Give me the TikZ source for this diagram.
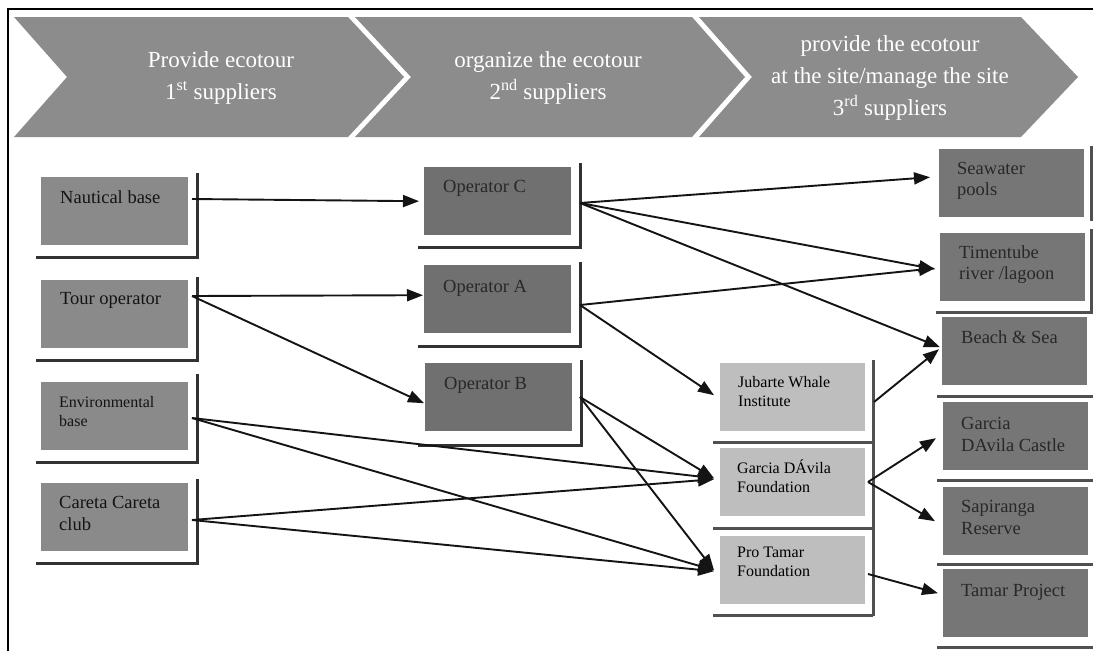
\documentclass[tikz,border=0pt]{standalone}
\usepackage{fontspec}
\setmainfont{Liberation Serif}
\usetikzlibrary{arrows.meta,calc}
\definecolor{chev}{RGB}{140,140,140}
\definecolor{boxA}{RGB}{138,138,138}
\definecolor{boxB}{RGB}{112,112,112}
\definecolor{boxC}{RGB}{190,190,190}
\definecolor{boxD}{RGB}{118,118,118}
\definecolor{shad}{RGB}{50,50,50}
\definecolor{sepc}{RGB}{80,80,80}
\definecolor{ink}{RGB}{20,20,20}
\definecolor{inkB}{RGB}{40,40,40}
\tikzset{
  chevshape/.style={fill=chev,draw=none},
  chevtxt/.style={align=center,text=white,inner sep=0pt,font=\fontsize{23}{32}\selectfont},
  box/.style={draw=none,minimum width=147pt,minimum height=68pt,inner sep=0pt,anchor=north west},
  boxone/.style={box,fill=boxA},
  boxtwo/.style={box,fill=boxB},
  boxthree/.style={box,fill=boxC,minimum width=145pt},
  boxfour/.style={box,fill=boxD,minimum width=145pt},
  lbl/.style={anchor=north west,inner sep=0pt,align=left,text=ink,font=\fontsize{18.5}{21}\selectfont},
  lblsmall/.style={lbl,font=\fontsize{16}{19}\selectfont},
  lbltwo/.style={lbl,text=inkB},
  shadowline/.style={line width=3pt,draw=shad},
  sepline/.style={line width=3pt,draw=sepc},
  arr/.style={-{Triangle[length=16pt,width=12pt]},line width=1.9pt,draw=ink},
}
\begin{document}
\begin{tikzpicture}[x=1pt,y=-1pt]
\useasboundingbox (0,0) rectangle (1093,651);
\fill[white] (0,0) rectangle (1093,651);
% frame
\draw[line width=2pt] (8,651) -- (8,9) -- (1093,9);
% chevrons
\fill[chevshape] (14,17) -- (348,17) -- (404,77) -- (348,137) -- (14,137) -- (67,77) -- cycle;
\fill[chevshape] (355,17) -- (692,17) -- (745,77) -- (692,137) -- (355,137) -- (411,77) -- cycle;
\fill[chevshape] (699,17) -- (1021,17) -- (1078,77) -- (1021,137) -- (699,137) -- (752,77) -- cycle;
\node[chevtxt] (ch1) at (221,78) {Provide ecotour\\1\textsuperscript{st} suppliers};
\node[chevtxt] (ch2) at (548,78) {organize the ecotour\\2\textsuperscript{nd} suppliers};
\node[chevtxt] (ch3) at (890,78) {provide the ecotour\\at the site/manage the site\\3\textsuperscript{rd} suppliers};

% column 1
\draw[shadowline] (36,257) -| (197,173);
\draw[shadowline] (36,360) -| (197,277);
\draw[shadowline] (36,462) -| (197,374);
\draw[shadowline] (36,563) -| (197,479);
\node[boxone] (nb) at (41,177) {};
\node[boxone] (to) at (41,280) {};
\node[boxone] (eb) at (41,382) {};
\node[boxone] (cc) at (41,483) {};
\node[lbl] (nbt) at (60,190.5) {Nautical base};
\node[lbl] (tot) at (60,292.5) {Tour operator};
\node[lblsmall] (ebt) at (59,396) {Environmental\\base};
\node[lbl,font=\fontsize{18.5}{22}\selectfont] (cct) at (59,496.5) {Careta Careta\\club};

% column 2
\draw[shadowline] (418,247) -| (580,163);
\draw[shadowline] (418,346) -| (580,262);
\draw[shadowline] (418,445) -| (581,360);
\node[boxtwo] (opC) at (424,167) {};
\node[boxtwo] (opA) at (424,265) {};
\node[boxtwo] (opB) at (425,363) {};
\node[lbltwo] (opCt) at (443,180.5) {Operator C};
\node[lbltwo] (opAt) at (443,280.5) {Operator A};
\node[lbltwo] (opBt) at (444,377.5) {Operator B};

% column 3
\draw[sepline] (873,360) -- (873,616);
\draw[sepline] (713,442) -- (873,442);
\draw[sepline] (713,528) -- (873,528);
\draw[sepline] (713,615) -- (873,615);
\node[boxthree] (jw) at (720,363) {};
\node[boxthree] (gf) at (720,448) {};
\node[boxthree] (pt) at (720,536) {};
\node[lblsmall,text=black] (jwt) at (738,376) {Jubarte Whale\\Institute};
\node[lblsmall,text=black] (gft) at (737,460) {Garcia DÁvila\\Foundation};
\node[lblsmall,text=black] (ptt) at (737,547) {Pro Tamar\\Foundation};

% column 4
\draw[sepline] (1091,146) -- (1091,221);
\draw[sepline] (1091,229) -- (1091,312);
\draw[sepline] (936,312) -- (1093,312);
\draw[sepline] (937,396) -- (1093,396);
\draw[sepline] (937,480) -- (1093,480);
\draw[sepline] (937,564) -- (1093,564);
\draw[sepline] (937,647) -- (1093,647);
\node[boxfour] (sw) at (939,149) {};
\node[boxfour] (tr) at (940,233) {};
\node[boxfour] (bs) at (942,317) {};
\node[boxfour] (gc) at (943,402) {};
\node[boxfour] (sr) at (943,487) {};
\node[boxfour] (tp) at (943,569) {};
\node[lbltwo] (swt) at (957,162.5) {Seawater\\pools};
\node[lbltwo] (trt) at (959,245.5) {Timentube\\river /lagoon};
\node[lbltwo] (bst) at (961,330.5) {Beach \& Sea};
\node[lbltwo,font=\fontsize{18.5}{22}\selectfont] (gct) at (961,417.5) {Garcia\\DAvila Castle};
\node[lbltwo,font=\fontsize{18.5}{22}\selectfont] (srt) at (961,500.5) {Sapiranga\\Reserve};
\node[lbltwo] (tpt) at (961,584.5) {Tamar Project};

% ports
\coordinate (nbo) at (192,199);
\coordinate (too) at (192,296);
\coordinate (ebo) at (192,418);
\coordinate (cco) at (192,520);
\coordinate (oCo) at (580,203);
\coordinate (oAo) at (580,305);
\coordinate (oBo) at (580,397);
\coordinate (jwo) at (874,402);
\coordinate (gfo) at (868,482);
\coordinate (pto) at (868,574);

% arrows
\draw[arr] (nbo) -- ($(opC.west)+(-5,0)$);
\draw[arr] (too) -- ($(opA.west)+(-1,-4)$);
\draw[arr] (too) -- ($(opB.west)+(-1,6)$);
\draw[arr] (oCo) -- ($(sw.west)+(-9,-6)$);
\draw[arr] (oCo) -- ($(tr.west)+(-5,2)$);
\draw[arr] (oCo) -- ($(bs.west)+(-2,-4)$);
\draw[arr] (oAo) -- ($(tr.west)+(-5,1)$);
\draw[arr] (oAo) -- ($(jw.west)+(-6,-2)$);
\draw[arr] (oBo) -- ($(gf.west)+(-6,-4)$);
\draw[arr] (oBo) -- ($(pt.west)+(-6,0)$);
\draw[arr] (ebo) -- ($(gf.west)+(-6,-4)$);
\draw[arr] (ebo) -- ($(pt.west)+(-6,0)$);
\draw[arr] (cco) -- ($(gf.west)+(-6,-3)$);
\draw[arr] (cco) -- ($(pt.west)+(-6,1)$);
\draw[arr] (jwo) -- ($(bs.west)+(-3,-2)$);
\draw[arr] (gfo) -- ($(gc.west)+(-7,2)$);
\draw[arr] (gfo) -- ($(sr.west)+(-8,0)$);
\draw[arr] (pto) -- ($(tp.west)+(-5,-10)$);
\end{tikzpicture}
\end{document}
